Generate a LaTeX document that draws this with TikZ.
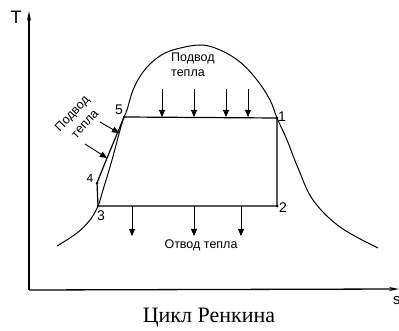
\documentclass[tikz,border=0pt]{standalone}
\usepackage{fontspec}
\setmainfont{Liberation Serif}
\newfontfamily\arialf{Liberation Sans}
\usetikzlibrary{arrows.meta}
\begin{document}
\begin{tikzpicture}[x=1pt,y=-1pt,
  axisline/.style={line width=1.3pt},
  cycleline/.style={line width=1.2pt},
  domeline/.style={line width=1pt},
  heat/.style={line width=0.9pt,-{Triangle[length=7pt,width=6pt]}},
  lbl/.style={font=\arialf\fontsize{12.5}{15}\selectfont, inner sep=0pt},
  num/.style={font=\arialf\fontsize{14}{14}\selectfont, inner sep=0pt},
  pdot/.style={circle, fill, inner sep=0pt, minimum size=3pt}]
\useasboundingbox (0,0) rectangle (399,331);
% axes
\coordinate (O) at (29,290);
\coordinate (Ttop) at (29,11);
\coordinate (Send) at (399,289);
\draw[axisline,-{Stealth[length=10pt,width=4pt]}] (O) -- (Ttop);
\draw[axisline,-{Stealth[length=10pt,width=4pt]}] (O) -- (Send);
\node[font=\arialf\fontsize{18}{18}\selectfont, inner sep=0pt] (Tl) at (16,17) {T};
\node[font=\arialf\fontsize{15}{15}\selectfont, anchor=west, inner sep=0pt] (Sl) at (393,301) {s};
% dome
\draw[domeline] plot[smooth, tension=0.6] coordinates {
 (57,246) (77,233) (90,220) (98,206) (103,190) (112,160) (122,123) (127,110)
 (133,90) (143,72) (157,58) (173,50) (200,45) (220,50) (240,62) (257,80)
 (270,100) (277,118) (287,140) (298,168) (313,200) (340,227) (378,248)};
% cycle points
\coordinate (p1) at (277,118);
\coordinate (p2) at (277,206);
\coordinate (p3) at (98,206);
\coordinate (p4) at (97,183);
\coordinate (p5) at (124,117);
\draw[cycleline] (p3) -- (p4);
\draw[cycleline] (p4) .. controls (108,155) and (118,132) .. (p5);
\draw[cycleline] (p5) -- (p1) -- (p2) -- (p3);
\foreach \p in {p1,p2,p3,p4,p5} \node[pdot] at (\p) {};
\node[num] (n1) at (282,117) {1};
\node[num] (n2) at (283,208) {2};
\node[num] (n3) at (101,216) {3};
\node[num,font=\arialf\fontsize{12}{12}\selectfont] (n4) at (90,178) {4};
\node[num] (n5) at (119,110) {5};
% heat in, top
\foreach \x/\n in {162/a,194/b,226/c,248/d}{
  \coordinate (t\n) at (\x,89);
  \coordinate (tt\n) at (\x,117);
  \draw[heat] (t\n) -- (tt\n);
}
\node[lbl, anchor=north west, align=left] (topl) at (171,53) {Подвод\\тепла};
% heat in, left
\coordinate (la) at (100,122);
\coordinate (lat) at (119,133);
\coordinate (lb) at (85,144);
\coordinate (lbt) at (107,158);
\draw[heat] (la) -- (lat);
\draw[heat] (lb) -- (lbt);
\node[lbl, rotate=47, anchor=south] (leftl1) at (77,118) {Подвод};
\node[lbl, rotate=47, anchor=south] (leftl2) at (88,127) {тепла};
% heat out, bottom
\foreach \x/\n in {132/a,194/b,241/c}{
  \coordinate (b\n) at (\x,206);
  \coordinate (bb\n) at (\x,236);
  \draw[heat] (b\n) -- (bb\n);
}
\node[lbl] (botl) at (201,245) {Отвод тепла};
% caption
\node[font=\fontsize{22}{22}\selectfont, inner sep=0pt] (cap) at (209,318) {Цикл Ренкина};
\end{tikzpicture}
\end{document}
